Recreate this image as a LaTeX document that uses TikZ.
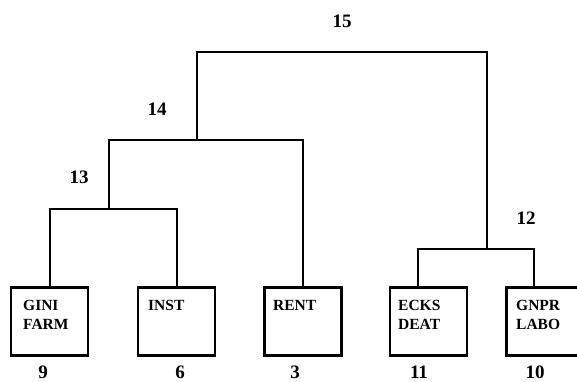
\documentclass[tikz,border=0pt]{standalone}
\usepackage{fontspec}
\setmainfont{Liberation Serif}
\begin{document}
\begin{tikzpicture}[x=1pt,y=-1pt,
  leaf/.style={draw,line width=2.4pt,minimum width=77pt,minimum height=68pt,inner sep=0pt},
  boxtext/.style={anchor=base west,align=left,inner sep=0pt,font=\fontsize{15.5}{19}\selectfont\bfseries},
  num/.style={anchor=base,inner sep=0pt,font=\fontsize{19}{22}\selectfont\bfseries},
  link/.style={line width=2pt,line join=miter}]
\clip (0,0) rectangle (577,381);
% leaf boxes
\node[leaf] (gini) at (49.5,321.5) {};
\node[leaf] (inst) at (176.5,321.5) {};
\node[leaf] (rent) at (303,321.5) {};
\node[leaf] (ecks) at (428.5,321.5) {};
\node[leaf] (gnpr) at (545,321.5) {};
% box texts (base anchor = baseline of the last line)
\node[boxtext] (tgini) at (23,329) {GINI\\FARM};
\node[boxtext] (tinst) at (148,310) {INST};
\node[boxtext] (trent) at (273,310) {RENT};
\node[boxtext] (tecks) at (398,329) {ECKS\\DEAT};
\node[boxtext] (tgnpr) at (516,329) {GNPR\\LABO};
% junctions
\coordinate (j13) at (109,209);
\coordinate (j14) at (197,140);
\coordinate (j15) at (342,52);
\coordinate (j12) at (487,249);
\coordinate (eckstop) at (418,287.5);
\coordinate (gnprtop) at (534,287.5);
% connectors
\draw[link] (gini.north) |- (j13) -| (inst.north);
\draw[link] (j13) |- (j14) -| (rent.north);
\draw[link] (j14) |- (j15) -| (j12);
\draw[link] (eckstop) |- (j12) -| (gnprtop);
% cluster numbers
\node[num] (n15) at (342,27) {15};
\node[num] (n14) at (157,115) {14};
\node[num] (n13) at (79,183) {13};
\node[num] (n12) at (526,224) {12};
% leaf numbers
\node[num] (n9) at (43,378) {9};
\node[num] (n6) at (180,378) {6};
\node[num] (n3) at (295,378) {3};
\node[num] (n11) at (419,378) {11};
\node[num] (n10) at (535,378) {10};
\end{tikzpicture}
\end{document}
